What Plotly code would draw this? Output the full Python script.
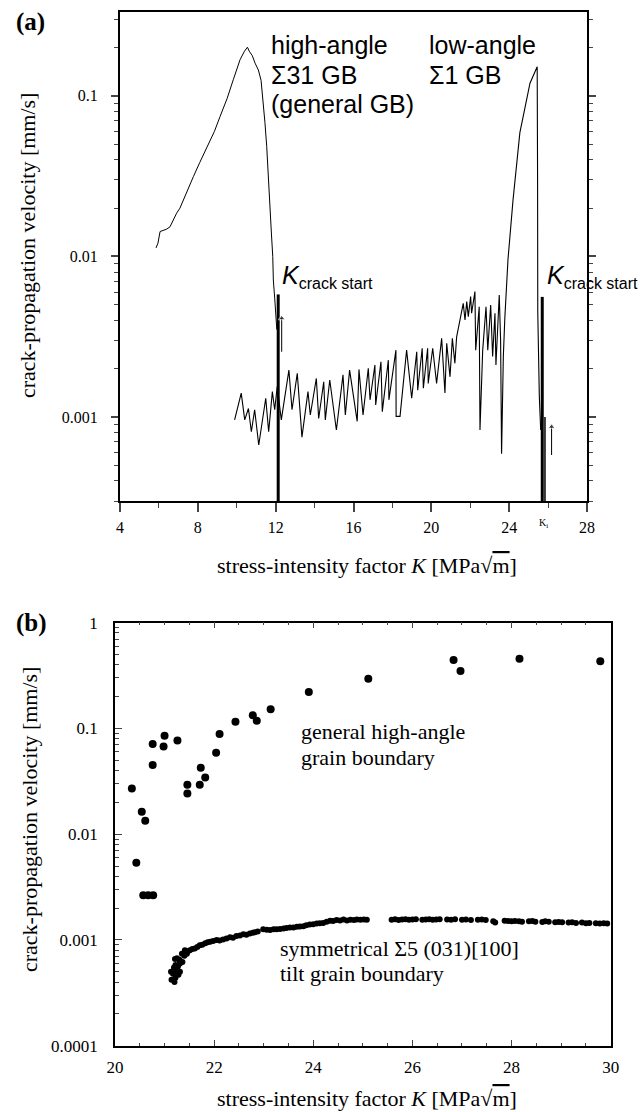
import numpy as np
import plotly.graph_objects as go

W, H = 644, 1112

# ---------------- Panel (a) data ----------------
# high-angle Sigma31 GB (general GB) curve
hi_K = [5.85, 5.95, 6.06, 6.23, 6.40, 6.57, 6.74, 6.91, 7.08, 7.25, 7.50, 7.77, 8.10, 8.54, 8.85, 9.14, 9.50, 9.82,
        10.17, 10.40, 10.51, 10.55, 10.64, 10.80, 10.94, 11.11, 11.25, 11.36, 11.45, 11.54, 11.67, 11.78, 11.85, 11.88,
        11.95, 12.02, 12.06]
hi_v = [0.0113, 0.0121, 0.0143, 0.0146, 0.0148, 0.0153, 0.0170, 0.0186, 0.0200, 0.0225, 0.0262, 0.0314, 0.0385,
        0.0507, 0.0600, 0.0743, 0.0960, 0.126, 0.168, 0.190, 0.198, 0.201, 0.190, 0.178, 0.160, 0.145, 0.125, 0.0944,
        0.068, 0.0483, 0.0225, 0.0140, 0.0100, 0.00714, 0.0055, 0.00422, 0.0035]

# low-angle Sigma1 GB: sawtooth background followed by the low-angle peak
lo_K = [9.89, 10.23, 10.41, 10.60, 10.75, 10.92, 11.13, 11.49, 11.64, 11.83, 11.95, 12.08, 12.29, 12.68, 12.84,
        13.11, 13.35, 13.66, 13.78, 14.09, 14.21, 14.47, 14.55, 14.78, 15.12, 15.46, 15.58, 15.80, 16.19, 16.28,
        16.49, 16.76, 16.85, 17.10, 17.14, 17.41, 17.48, 17.79, 17.82, 18.18, 18.19, 18.39, 18.73, 18.99, 19.25,
        19.30, 19.53, 19.59, 19.81, 19.84, 20.07, 20.27, 20.53, 20.70, 20.79, 20.96, 21.08, 21.21, 21.30, 21.56,
        21.64, 21.73, 21.82, 21.90, 22.02, 22.07, 22.24, 22.28, 22.46, 22.50, 22.64, 22.81, 22.90, 23.05, 23.15,
        23.27, 23.32, 23.49, 23.56, 23.61, 23.67, 23.70, 23.78, 23.94, 24.20, 24.55, 25.07, 25.33, 25.44, 25.46,
        25.47, 25.55, 25.62]
lo_v = [0.00096, 0.00141, 0.00096, 0.00113, 0.00081, 0.00111, 0.00067, 0.00131, 0.00081, 0.00144, 0.00111,
        0.00155, 0.00096, 0.00196, 0.00111, 0.00187, 0.00075, 0.00144, 0.00103, 0.00174, 0.00098, 0.00166, 0.00096,
        0.00170, 0.00083, 0.00183, 0.00103, 0.00196, 0.00094, 0.00198, 0.00103, 0.00201, 0.00128, 0.00211, 0.00119,
        0.00221, 0.00108, 0.00226, 0.00128, 0.00261, 0.00101, 0.00101, 0.00261, 0.00131, 0.00255, 0.00147, 0.00268,
        0.00151, 0.00268, 0.00162, 0.00268, 0.00162, 0.00309, 0.00141, 0.00288, 0.00178, 0.00309, 0.00216, 0.00316,
        0.00453, 0.00510, 0.00402, 0.00523, 0.00422, 0.00562, 0.00443, 0.00604, 0.00261, 0.00486, 0.00083, 0.00261,
        0.00486, 0.00261, 0.00499, 0.00238, 0.00443, 0.00211, 0.00575, 0.00302, 0.00059, 0.00187, 0.00238, 0.00422,
        0.0096, 0.0226, 0.059, 0.120, 0.140, 0.152, 0.030, 0.0045, 0.00134, 0.00083]

# K_crack start markers (thick vertical lines)
kstart_K = [12.13, 25.70]
kstart_top = [0.0058, 0.0056]
# thin secondary line next to second marker
ki_K = 25.84
ki_top = 0.0010
# small arrows
arrow_K = [12.31, 26.18]
arrow_from = [0.00255, 0.00058]
arrow_to = [0.00412, 0.00087]

a_xrange = [4, 28]
a_vmin, a_vmax = 0.0003, 0.333
a_xticks = [4, 8, 12, 16, 20, 24, 28]
a_xminor = [6, 10, 14, 18, 22, 26]
a_yticks = [0.001, 0.01, 0.1]
a_yticktext = ["0.001", "0.01", "0.1"]

# ---------------- Panel (b) data ----------------
gen_K = [20.34, 20.43, 20.54, 20.57, 20.61, 20.67, 20.76, 20.76, 20.77, 20.98, 21.00, 21.26, 21.46, 21.46, 21.71,
         21.73, 21.82, 22.04, 22.11, 22.43, 22.78, 22.86, 23.14, 23.91, 25.11, 26.83, 26.97, 28.16, 29.79]
gen_v = [0.0271, 0.00537, 0.0163, 0.00265, 0.0134, 0.00265, 0.0711, 0.0450, 0.00265, 0.0676, 0.0853, 0.0770,
         0.0293, 0.0243, 0.0293, 0.0425, 0.0344, 0.0589, 0.0885, 0.1157, 0.133, 0.118, 0.152, 0.221, 0.295, 0.443,
         0.349, 0.457, 0.431]

s5_K = [21.14, 21.20, 21.22, 21.13, 21.17, 21.24, 21.28, 21.31, 21.19, 21.22, 21.27, 21.31, 21.36, 21.21, 21.25,
        21.30, 21.35, 21.40, 21.45, 21.41, 21.47, 21.51, 21.56, 21.61, 21.66, 21.71, 21.76, 21.82, 21.87, 21.92,
        21.98, 22.05, 22.11, 22.18, 22.25, 22.32, 22.38, 22.45, 22.52, 22.59, 22.65, 22.72, 22.78, 22.82, 22.88,
        22.99, 23.06, 23.13, 23.20, 23.26, 23.33, 23.40, 23.46, 23.53, 23.60, 23.67, 23.73, 23.80, 23.86, 23.93,
        24.00, 24.07, 24.13, 24.20, 24.27, 24.34, 24.40, 24.47, 24.54, 24.61, 24.68, 24.75, 24.82, 24.88, 24.95,
        25.02, 25.08, 25.58, 25.65, 25.72, 25.79, 25.86, 25.93, 26.00, 26.07, 26.20, 26.27, 26.34, 26.41, 26.48,
        26.55, 26.70, 26.78, 26.86, 27.00, 27.08, 27.18, 27.32, 27.40, 27.48, 27.63, 27.67, 27.86, 27.93, 28.00,
        28.07, 28.15, 28.21, 28.35, 28.42, 28.48, 28.62, 28.68, 28.75, 28.88, 28.95, 29.02, 29.15, 29.22, 29.30,
        29.42, 29.50, 29.57, 29.70, 29.78, 29.86, 29.93]
s5_v = [0.00042, 0.00040, 0.00044, 0.00050, 0.00048, 0.00050, 0.00047, 0.00050, 0.00055, 0.00058, 0.00056, 0.00060,
        0.00062, 0.00066, 0.00067, 0.00065, 0.00074, 0.00071, 0.00074, 0.00080, 0.00078, 0.00080, 0.00082, 0.00083,
        0.00086, 0.00089, 0.00090, 0.00093, 0.00095, 0.00096, 0.00098, 0.00100, 0.00099, 0.00101, 0.00103, 0.00106,
        0.00105, 0.00109, 0.00110, 0.00113, 0.00112, 0.00115, 0.00117, 0.00118, 0.00120, 0.00126, 0.00125, 0.00124,
        0.00126, 0.00126, 0.00127, 0.00128, 0.00130, 0.00131, 0.00131, 0.00133, 0.00134, 0.00135, 0.00138, 0.00140,
        0.00141, 0.00143, 0.00144, 0.00145, 0.00149, 0.00152, 0.00151, 0.00154, 0.00153, 0.00156, 0.00153, 0.00155,
        0.00154, 0.00156, 0.00155, 0.00156, 0.00155, 0.00155, 0.00157, 0.00154, 0.00156, 0.00157, 0.00155, 0.00156,
        0.00157, 0.00155, 0.00156, 0.00157, 0.00155, 0.00156, 0.00157, 0.00156, 0.00155, 0.00157, 0.00155, 0.00156,
        0.00154, 0.00155, 0.00156, 0.00154, 0.00150, 0.00146, 0.00152, 0.00151, 0.00150, 0.00151, 0.00150, 0.00149,
        0.00150, 0.00151, 0.00149, 0.00148, 0.00150, 0.00149, 0.00147, 0.00148, 0.00147, 0.00146, 0.00147, 0.00145,
        0.00146, 0.00144, 0.00145, 0.00144, 0.00143, 0.00144, 0.00143]

b_xrange = [20, 30]
b_vmin, b_vmax = 0.0001, 1.0
b_xticks = [20, 22, 24, 26, 28, 30]
b_xminor = [20.5, 21, 21.5, 22.5, 23, 23.5, 24.5, 25, 25.5, 26.5, 27, 27.5, 28.5, 29, 29.5]
b_yticks = [0.0001, 0.001, 0.01, 0.1, 1]
b_yticktext = ["0.0001", "0.001", "0.01", "0.1", "1"]

minor_digits = [2, 3, 4, 5, 6, 7, 8, 9]


def minor_log(lo, hi):
    vals = []
    for e in range(-6, 2):
        for d in minor_digits:
            v = d * 10.0 ** e
            if lo < v < hi:
                vals.append(v)
    return vals


def px(x, y):
    return x / W, 1 - y / H


SERIF = "Liberation Serif"
SANS = "Liberation Sans"

fig = go.Figure()

# ---- panel (a) traces ----
fig.add_trace(go.Scatter(x=hi_K, y=hi_v, mode="lines", line=dict(color="black", width=1),
                         xaxis="x", yaxis="y", showlegend=False))
fig.add_trace(go.Scatter(x=lo_K, y=lo_v, mode="lines", line=dict(color="black", width=1.1),
                         xaxis="x", yaxis="y", showlegend=False))
for k, top in zip(kstart_K, kstart_top):
    fig.add_trace(go.Scatter(x=[k, k], y=[a_vmin, top], mode="lines", line=dict(color="black", width=3),
                             xaxis="x", yaxis="y", showlegend=False))
fig.add_trace(go.Scatter(x=[ki_K, ki_K], y=[a_vmin, ki_top], mode="lines", line=dict(color="black", width=1.5),
                         xaxis="x", yaxis="y", showlegend=False))
for k, f, t in zip(arrow_K, arrow_from, arrow_to):
    fig.add_trace(go.Scatter(x=[k, k], y=[f, t], mode="lines+markers", line=dict(color="black", width=1),
                             marker=dict(symbol=["circle", "triangle-up"], size=[0, 6], color="black"),
                             xaxis="x", yaxis="y", showlegend=False))

# ---- panel (b) traces ----
fig.add_trace(go.Scatter(x=gen_K, y=gen_v, mode="markers", marker=dict(color="black", size=8),
                         xaxis="x2", yaxis="y2", showlegend=False))
fig.add_trace(go.Scatter(x=s5_K, y=s5_v, mode="markers", marker=dict(color="black", size=6),
                         xaxis="x2", yaxis="y2", showlegend=False))

ann = []


def text(t, x, y, size, family, xanchor="left", yanchor="middle", angle=0):
    xp, yp = px(x, y)
    ann.append(dict(text=t, x=xp, y=yp, xref="paper", yref="paper", showarrow=False, xanchor=xanchor,
                    yanchor=yanchor, textangle=angle, font=dict(size=size, family=family, color="black")))


# panel labels
text("<b>(a)</b>", 14, 22, 25, SERIF)
text("<b>(b)</b>", 14, 623, 25, SERIF)

# panel (a) annotations
text("high-angle", 269, 45, 25, SANS)
text("Σ31 GB", 269, 75, 25, SANS)
text("(general GB)", 269, 104, 25, SANS)
text("low-angle", 427, 45, 25, SANS)
text("Σ1 GB", 427, 75, 25, SANS)
kcs = "<i>K</i><sub><span style='font-size:16px'>crack start</span></sub>"
text(kcs, 280, 276, 25, SANS)
text(kcs, 545, 276, 25, SANS)
text("K<sub>i</sub>", 543, 523, 10, SERIF, xanchor="center")

sqrt_m = "[MPa√<span style='text-decoration:overline'>m</span>]"
text("stress-intensity factor <i>K</i> " + sqrt_m, 367, 565, 22, SERIF, xanchor="center")
text("crack-propagation velocity [mm/s]", 28, 246, 22, SERIF, xanchor="center", angle=-90)

# panel (b) annotations
text("general high-angle", 299, 731, 22, SERIF)
text("grain boundary", 299, 757, 22, SERIF)
text("symmetrical Σ5 (031)[100]", 278, 948, 22, SERIF)
text("tilt grain boundary", 278, 973, 22, SERIF)
text("stress-intensity factor <i>K</i> " + sqrt_m, 367, 1098, 22, SERIF, xanchor="center")
text("crack-propagation velocity [mm/s]", 29, 820, 22, SERIF, xanchor="center", angle=-90)

fig.update_layout(
    width=W, height=H, margin=dict(l=0, r=0, t=0, b=0, autoexpand=False),
    paper_bgcolor="white", plot_bgcolor="white",
    annotations=ann,
    xaxis=dict(domain=[120 / W, 587 / W], range=a_xrange, anchor="y",
               tickmode="array", tickvals=a_xticks, ticks="outside", ticklen=9, tickwidth=1.5,
               minor=dict(tickvals=a_xminor, ticks="outside", ticklen=5, tickwidth=1.2),
               showline=True, linewidth=2, linecolor="black", mirror=True, showgrid=False, zeroline=False,
               tickfont=dict(family=SERIF, size=16, color="black"), ticklabelstandoff=2),
    yaxis=dict(domain=[1 - 501 / H, 1 - 12 / H], type="log",
               range=[np.log10(a_vmin), np.log10(a_vmax)], anchor="x",
               tickmode="array", tickvals=a_yticks, ticktext=a_yticktext, ticks="outside", ticklen=7,
               tickwidth=1.5,
               minor=dict(tickvals=minor_log(a_vmin, a_vmax), ticks="outside", ticklen=4, tickwidth=1),
               showline=True, linewidth=2, linecolor="black", mirror="ticks", showgrid=False, zeroline=False,
               tickfont=dict(family=SERIF, size=16, color="black"), ticklabelstandoff=10),
    xaxis2=dict(domain=[115 / W, 610.7 / W], range=b_xrange, anchor="y2",
                tickmode="array", tickvals=b_xticks, ticks="inside", ticklen=6, tickwidth=1.2,
                minor=dict(tickvals=b_xminor, ticks="inside", ticklen=3, tickwidth=1),
                showline=True, linewidth=1.5, linecolor="black", mirror="ticks", showgrid=False, zeroline=False,
                tickfont=dict(family=SERIF, size=17, color="black"), ticklabelstandoff=5),
    yaxis2=dict(domain=[1 - 1045.7 / H, 1 - 622.7 / H], type="log",
                range=[np.log10(b_vmin), np.log10(b_vmax)], anchor="x2",
                tickmode="array", tickvals=b_yticks, ticktext=b_yticktext, ticks="inside", ticklen=7,
                tickwidth=1.2,
                minor=dict(tickvals=minor_log(b_vmin, b_vmax), ticks="inside", ticklen=4, tickwidth=1),
                showline=True, linewidth=1.5, linecolor="black", mirror=True, showgrid=False, zeroline=False,
                tickfont=dict(family=SERIF, size=17, color="black"), ticklabelstandoff=12),
)

fig.write_html("out.html", config={"displayModeBar": False},
               post_script="document.body.style.margin='0';document.body.style.overflow='hidden';")
